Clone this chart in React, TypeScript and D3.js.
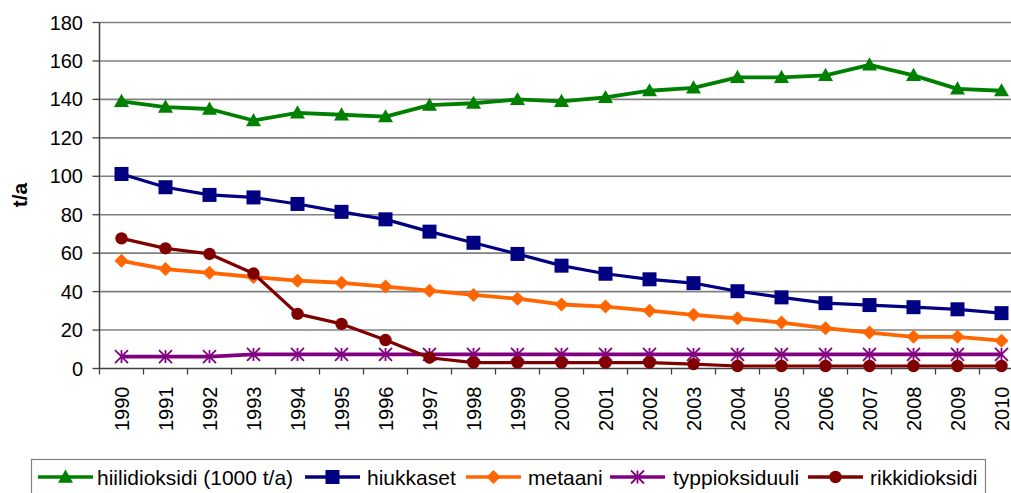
import React from "react";
import * as d3 from "d3";

const years = ["1990","1991","1992","1993","1994","1995","1996","1997","1998","1999","2000","2001","2002","2003","2004","2005","2006","2007","2008","2009","2010"];
const hiilidioksidi = [139, 136, 135, 129, 133, 132, 131, 137, 138, 140, 139, 141, 144.5, 146, 151.5, 151.5, 152.5, 158, 152.5, 145.5, 144.5];
const hiukkaset = [101.2, 94.3, 90.3, 89, 85.6, 81.5, 77.6, 71.2, 65.4, 59.6, 53.5, 49.3, 46.4, 44.4, 40.2, 37, 34, 33, 31.9, 30.8, 28.8];
const metaani = [56, 51.7, 49.8, 47.6, 45.7, 44.6, 42.6, 40.5, 38.3, 36.3, 33.3, 32.2, 30.1, 27.9, 26.1, 23.9, 21, 18.7, 16.5, 16.5, 14.5];
const typpioksiduuli = [6.2, 6.2, 6.2, 7.3, 7.3, 7.3, 7.3, 7.3, 7.3, 7.3, 7.3, 7.3, 7.3, 7.3, 7.3, 7.3, 7.3, 7.3, 7.3, 7.3, 7.3];
const rikkidioksidi = [67.7, 62.5, 59.6, 49.4, 28.4, 23.2, 14.8, 5.6, 3.1, 3.1, 3.1, 3.1, 3.1, 2.3, 1.3, 1.3, 1.3, 1.3, 1.3, 1.3, 1.3];
const yTicks = [0, 20, 40, 60, 80, 100, 120, 140, 160, 180];
const seriesNames = ["hiilidioksidi (1000 t/a)", "hiukkaset", "metaani", "typpioksiduuli", "rikkidioksidi"];
const seriesColors = ["#008000", "#000080", "#FF6600", "#800080", "#800000"];
const seriesMarkers = ["triangle", "square", "diamond", "star", "circle"];
const seriesValues = [hiilidioksidi, hiukkaset, metaani, typpioksiduuli, rikkidioksidi];
const yTitle = "t/a";

const FONT = "'Liberation Sans', Arial, sans-serif";

function Marker({ type, x, y, color }: { type: string; x: number; y: number; color: string }) {
  if (type === "triangle") {
    const s = 7.5;
    return <path d={`M${x},${y - s}L${x + s},${y + s * 0.75}L${x - s},${y + s * 0.75}Z`} fill={color} />;
  }
  if (type === "square") {
    const s = 7;
    return <rect x={x - s} y={y - s} width={2 * s} height={2 * s} fill={color} />;
  }
  if (type === "diamond") {
    const s = 7;
    return <path d={`M${x},${y - s}L${x + s},${y}L${x},${y + s}L${x - s},${y}Z`} fill={color} />;
  }
  if (type === "star") {
    const s = 6.5;
    return (
      <g stroke={color} strokeWidth={1.8}>
        <line x1={x - s} y1={y - s} x2={x + s} y2={y + s} />
        <line x1={x - s} y1={y + s} x2={x + s} y2={y - s} />
        <line x1={x} y1={y - s} x2={x} y2={y + s} />
      </g>
    );
  }
  return <circle cx={x} cy={y} r={6.2} fill={color} />;
}

export default function App() {
  const left = 99.5;
  const step = 44;
  const x = d3.scaleBand<string>().domain(years).range([left, left + step * years.length]).padding(0);
  const y = d3.scaleLinear().domain([0, 180]).range([368.5, 22.5]);
  const cx = (yr: string) => (x(yr) as number) + x.bandwidth() / 2;
  const line = d3.line<number>().x((_, i) => cx(years[i])).y((v) => y(v));

  const legendLayout = [
    { lx: 38, tx: 97 },
    { lx: 305, tx: 367 },
    { lx: 466, tx: 528 },
    { lx: 610, tx: 673 },
    { lx: 808, tx: 870 },
  ];
  const legendY = 477;

  return (
    <svg width={1011} height={493} style={{ position: "absolute", left: 0, top: 0 }} fontFamily={FONT}>
      <rect width={1011} height={493} fill="#fff" />
      {yTicks.map((t) => (
        <g key={t}>
          <line x1={left} x2={1023} y1={y(t)} y2={y(t)} stroke={t === 0 ? "#404040" : "#808080"} strokeWidth={1.6} />
          <line x1={left - 7} x2={left} y1={y(t)} y2={y(t)} stroke="#404040" strokeWidth={1.3} />
          <text x={83} y={y(t)} textAnchor="end" dominantBaseline="central" fontSize={20} fill="#000">{t}</text>
        </g>
      ))}
      <line x1={left} x2={left} y1={y(180)} y2={y(0)} stroke="#404040" strokeWidth={1.5} />
      {years.map((yr) => (
        <g key={yr}>
          <line x1={x(yr) as number} x2={x(yr) as number} y1={y(0)} y2={y(0) + 6} stroke="#404040" strokeWidth={1.3} />
          <text
            transform={`translate(${cx(yr)},${y(0) + 18}) rotate(-90)`}
            textAnchor="end"
            dominantBaseline="central"
            fontSize={20}
            fill="#000"
          >{yr}</text>
        </g>
      ))}
      <text transform={`translate(19,195) rotate(-90)`} textAnchor="middle" dominantBaseline="central" fontSize={21} fontWeight="bold">{yTitle}</text>

      {seriesValues.map((vals, si) => (
        <g key={si}>
          <path d={line(vals) || ""} fill="none" stroke={seriesColors[si]} strokeWidth={si === 1 || si === 4 ? 3.2 : 3.8} strokeLinejoin="round" />
          {vals.map((v, i) => (
            <Marker key={i} type={seriesMarkers[si]} x={cx(years[i])} y={y(v)} color={seriesColors[si]} />
          ))}
        </g>
      ))}

      <rect x={31.5} y={459.5} width={954} height={40} fill="#fff" stroke="#808080" strokeWidth={1.2} />
      {seriesNames.map((name, si) => {
        const L = legendLayout[si];
        return (
          <g key={name}>
            <line x1={L.lx} x2={L.lx + 55} y1={legendY} y2={legendY} stroke={seriesColors[si]} strokeWidth={3.5} />
            <Marker type={seriesMarkers[si]} x={L.lx + 27.5} y={legendY} color={seriesColors[si]} />
            <text x={L.tx} y={legendY} dominantBaseline="central" fontSize={21} fill="#000">{name}</text>
          </g>
        );
      })}
    </svg>
  );
}
